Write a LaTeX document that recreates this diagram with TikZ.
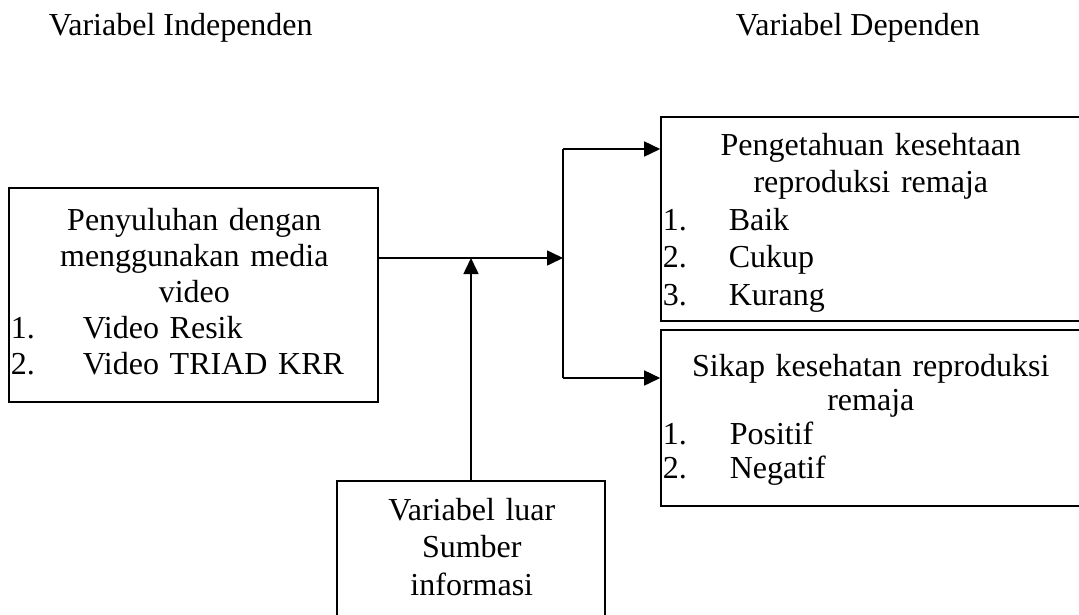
\documentclass[tikz,border=0pt]{standalone}
\usepackage{fontspec}
\setmainfont{Liberation Serif}
\usetikzlibrary{arrows.meta,positioning}

\begin{document}
\begin{tikzpicture}
  [
   x=1pt,y=-1pt,
   line width=1.6pt,
   kotak/.style={rectangle,draw=black,line width=1.6pt,inner sep=0pt},
   teks/.style={inner sep=0pt,align=center,font=\fontsize{32pt}{37pt}\selectfont},
   judul/.style={inner sep=0pt,anchor=base west,font=\fontsize{32pt}{37pt}\selectfont},
   pijl/.style={-{Triangle[length=16pt,width=15pt]}}
  ]
   \clip (0,0) rectangle (1079,614);

   \node[judul] (indep) at (48,35) {Variabel Independen};
   \node[judul] (dep) at (735,35) {Variabel Dependen};

   % kotak
   \node[kotak,minimum width=369pt,minimum height=214pt] (kiri) at (193.5,295) {};
   \node[kotak,minimum width=424pt,minimum height=204pt] (pengetahuan) at (873,219) {};
   \node[kotak,minimum width=424pt,minimum height=176pt] (sikap) at (873,418) {};
   \node[kotak,minimum width=268pt,minimum height=179pt] (luar) at (471,570.5) {};

   % teks di dalam kotak
   \node[teks,text width=369pt,anchor=base west,font=\fontsize{32pt}{36pt}\selectfont] (kiri-teks) at (9,230)
     {Penyuluhan dengan\\menggunakan media\\video\\
      \makebox[369pt][l]{\hspace*{1pt}\makebox[72pt][l]{1.}Video Resik}\\
      \makebox[369pt][l]{\hspace*{1pt}\makebox[72pt][l]{2.}Video TRIAD KRR}};
   \node[teks,text width=418pt,anchor=base west,font=\fontsize{32pt}{37.5pt}\selectfont] (pengetahuan-teks) at (661,155)
     {Pengetahuan kesehtaan\\reproduksi remaja\\
      \makebox[418pt][l]{\hspace*{1pt}\makebox[66pt][l]{1.}Baik}\\
      \makebox[418pt][l]{\hspace*{1pt}\makebox[66pt][l]{2.}Cukup}\\
      \makebox[418pt][l]{\hspace*{1pt}\makebox[66pt][l]{3.}Kurang}};
   \node[teks,text width=418pt,anchor=base west,font=\fontsize{32pt}{34pt}\selectfont] (sikap-teks) at (661,376)
     {Sikap kesehatan reproduksi\\remaja\\
      \makebox[418pt][l]{\hspace*{1pt}\makebox[67pt][l]{1.}Positif}\\
      \makebox[418pt][l]{\hspace*{1pt}\makebox[67pt][l]{2.}Negatif}};
   \node[teks,text width=268pt,anchor=base west,font=\fontsize{32pt}{37.5pt}\selectfont] (luar-teks) at (337,520)
     {Variabel luar\\Sumber\\informasi};

   % percabangan
   \coordinate (cabang) at (563,258);
   \coordinate (atas) at (563,149);
   \coordinate (bawah) at (563,378);

   \draw[pijl] (kiri.east |- cabang) -- (cabang);
   \draw[pijl] (luar.north) -- (luar.north |- cabang);
   \draw (atas) -- (bawah);
   \draw[pijl] (atas) -- (atas -| pengetahuan.west);
   \draw[pijl] (bawah) -- (bawah -| sikap.west);

\end{tikzpicture}
\end{document}
